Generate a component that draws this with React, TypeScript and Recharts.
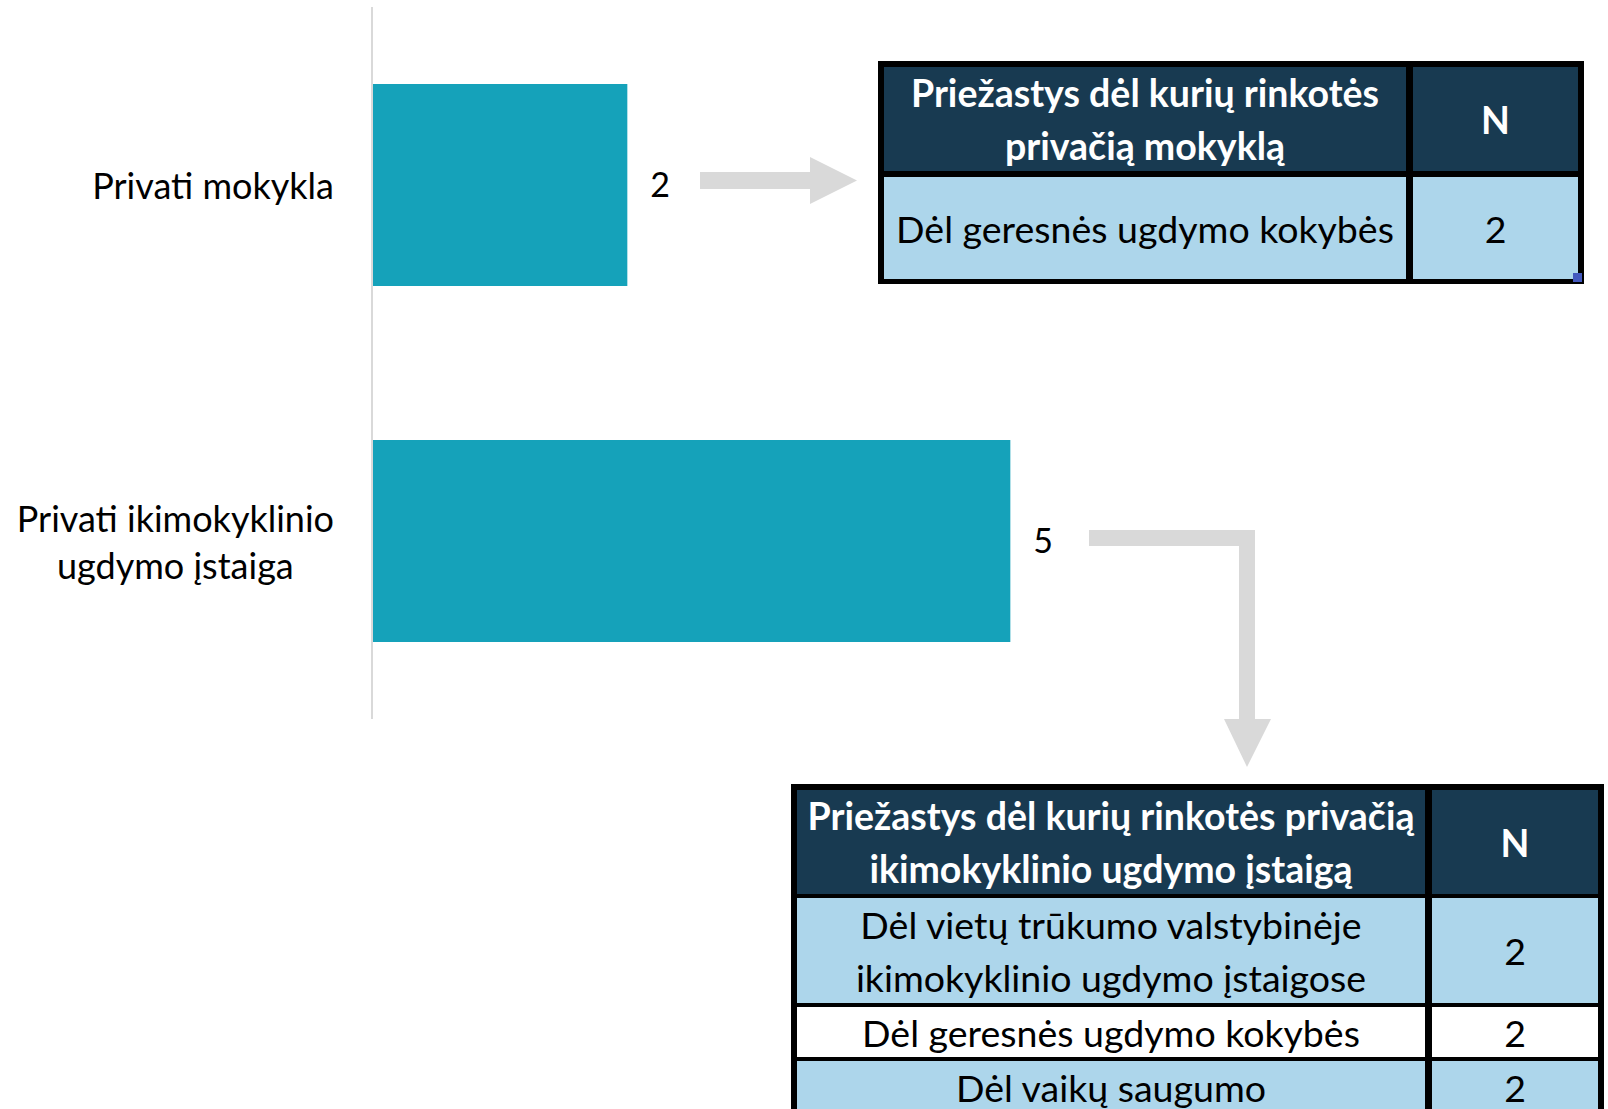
import React from 'react';
import { BarChart, Bar, XAxis, YAxis, LabelList } from 'recharts';

// bar chart values
const categories = ['Privati mokykla', 'Privati ikimokyklinio ugdymo įstaiga'];
const counts = [2, 5];

// side tables
const schoolHeader = ['Priežastys dėl kurių rinkotės\nprivačią mokyklą', 'N'];
const schoolReasons = ['Dėl geresnės ugdymo kokybės'];
const schoolCounts = [2];

const preschoolHeader = ['Priežastys dėl kurių rinkotės privačią\nikimokyklinio ugdymo įstaigą', 'N'];
const preschoolReasons = [
    'Dėl vietų trūkumo valstybinėje\nikimokyklinio ugdymo įstaigose',
    'Dėl geresnės ugdymo kokybės',
    'Dėl vaikų saugumo',
];
const preschoolCounts = [2, 2, 2];

const chartData = categories.map((name, i) => ({ name, value: counts[i] }));

const FONT = 'Lato, "Open Sans", sans-serif';
const BAR = '#15A2BA';
const NAVY = '#183A51';
const LIGHT = '#ADD6EB';
const ARROW = '#D9D9D9';

const wrap = (text: string, max: number) => {
    const lines: string[] = [];
    let cur = '';
    text.split(' ').forEach((w) => {
        if (cur && (cur + ' ' + w).length > max) {
            lines.push(cur);
            cur = w;
        } else {
            cur = cur ? cur + ' ' + w : w;
        }
    });
    if (cur) lines.push(cur);
    return lines;
};

let ctx: CanvasRenderingContext2D | null = null;
const measure = (t: string, size: number) => {
    if (!ctx) ctx = document.createElement('canvas').getContext('2d');
    if (!ctx) return t.length * size * 0.5;
    ctx.font = `${size}px Lato`;
    return ctx.measureText(t).width;
};

const LABEL_SIZE = 36;
const LINE_H = 47;

// Excel style: block right-aligned to the axis, lines centred inside it
const CategoryTick = ({ x, y, payload }: any) => {
    const lines = wrap(payload.value, 22);
    const blockW = Math.max(...lines.map((l) => measure(l, LABEL_SIZE)));
    const cx = x - blockW / 2;
    const y0 = y - ((lines.length - 1) * LINE_H) / 2;
    return (
        <text x={cx} y={y0} textAnchor="middle" fontFamily={FONT} fontSize={LABEL_SIZE} fill="#000">
            {lines.map((l, i) => (
                <tspan key={i} x={cx} y={y0 + i * LINE_H} dominantBaseline="central">
                    {l}
                </tspan>
            ))}
        </text>
    );
};

const cellBase: React.CSSProperties = {
    display: 'flex',
    alignItems: 'center',
    justifyContent: 'center',
    textAlign: 'center',
    whiteSpace: 'pre-line',
    fontFamily: FONT,
    fontSize: 37.5,
    lineHeight: '53px',
};

interface ReasonTableProps {
    left: number;
    top: number;
    cols: number[];
    rows: number[];
    rowGap: number;
    header: string[];
    reasons: string[];
    values: number[];
    fills: string[];
}

const ReasonTable = ({ left, top, cols, rows, rowGap, header, reasons, values, fills }: ReasonTableProps) => (
    <div
        style={{
            position: 'absolute',
            left,
            top,
            background: '#000',
            padding: '6px 6px 5px 6px',
            display: 'grid',
            gridTemplateColumns: cols.map((c) => c + 'px').join(' '),
            gridTemplateRows: rows.map((r) => r + 'px').join(' '),
            columnGap: 7,
            rowGap,
        }}
    >
        <div style={{ ...cellBase, background: NAVY, color: '#fff', fontWeight: 700 }}>{header[0]}</div>
        <div style={{ ...cellBase, background: NAVY, color: '#fff', fontWeight: 700 }}>{header[1]}</div>
        {reasons.map((r, i) => (
            <React.Fragment key={i}>
                <div style={{ ...cellBase, background: fills[i], color: '#000' }}>{r}</div>
                <div style={{ ...cellBase, background: fills[i], color: '#000' }}>{values[i]}</div>
            </React.Fragment>
        ))}
    </div>
);

const App = () => (
    <div style={{ position: 'absolute', left: 0, top: 0, width: 1608, height: 1109, overflow: 'hidden', background: '#fff' }}>
        <BarChart
            width={1608}
            height={1109}
            layout="vertical"
            data={chartData}
            margin={{ top: 7, right: 470, bottom: 390, left: 0 }}
        >
            <XAxis type="number" domain={[0, 6]} hide />
            <YAxis
                type="category"
                dataKey="name"
                width={372}
                axisLine={{ stroke: ARROW, strokeWidth: 2 }}
                tickLine={false}
                tickSize={0}
                tickMargin={38}
                tick={<CategoryTick />}
            />
            <Bar dataKey="value" fill={BAR} barSize={202} isAnimationActive={false}>
                <LabelList
                    dataKey="value"
                    position="right"
                    offset={23}
                    fill="#000"
                    fontSize={34}
                    fontFamily={FONT}
                />
            </Bar>
        </BarChart>

        <svg width={1608} height={1109} style={{ position: 'absolute', left: 0, top: 0, pointerEvents: 'none' }}>
            <polygon points="700,172 810,172 810,157 857,180.5 810,204 810,189 700,189" fill={ARROW} />
            <polygon points="1089,530 1255,530 1255,719 1271,719 1247,767 1224,719 1239,719 1239,546 1089,546" fill={ARROW} />
        </svg>

        <ReasonTable
            left={878}
            top={61}
            cols={[522, 165]}
            rows={[104, 102]}
            rowGap={6}
            header={schoolHeader}
            reasons={schoolReasons}
            values={schoolCounts}
            fills={[LIGHT]}
        />
        <div style={{ position: 'absolute', left: 1573, top: 273, width: 9, height: 9, background: '#4459BE' }} />

        <ReasonTable
            left={791}
            top={784}
            cols={[628, 166]}
            rows={[104, 105, 50, 52]}
            rowGap={4}
            header={preschoolHeader}
            reasons={preschoolReasons}
            values={preschoolCounts}
            fills={[LIGHT, '#fff', LIGHT]}
        />
    </div>
);

export default App;
